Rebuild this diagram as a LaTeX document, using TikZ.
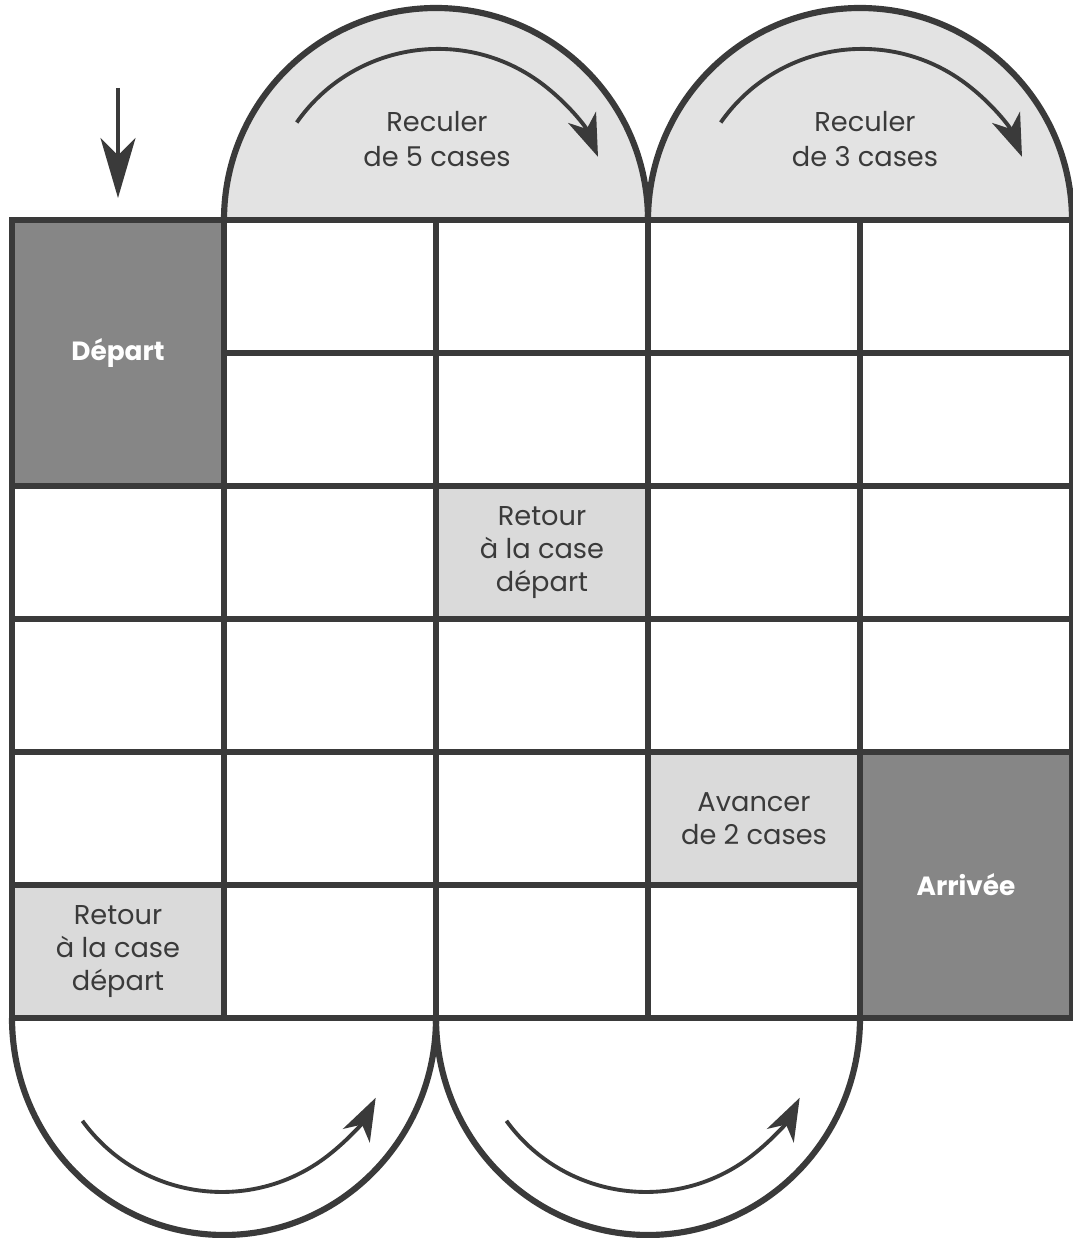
\documentclass[tikz,border=0pt]{standalone}
\usepackage{fontspec}
\setmainfont{Poppins}
\usepackage{xcolor}
\usetikzlibrary{arrows.meta}
\usetikzlibrary{positioning}

\definecolor{trait}{HTML}{3A3A3A}
\definecolor{fonce}{HTML}{868686}
\definecolor{clair}{HTML}{DADADA}
\definecolor{voile}{HTML}{E3E3E3}

\begin{document}
\begin{tikzpicture}[]
	%\draw[help lines] (0,0) grid (21,24);
	
	\tikzstyle{case} = [draw=trait,line width=3.5pt,minimum width=4.24cm,minimum height=2.66cm,inner sep=0pt,outer sep=0pt]
	\tikzstyle{grande} = [case,fill=fonce,minimum height=5.32cm,text=white,font=\bfseries\fontsize{15}{18}\selectfont]
	\tikzstyle{piege} = [case,fill=clair,align=center,text=trait,font=\fontsize{15.5}{19}\selectfont]
	\tikzstyle{texte} = [align=center,text=trait,font=\fontsize{15.5}{20}\selectfont]
	\tikzstyle{bord} = [draw=trait,line width=3.5pt]
	\tikzstyle{fleche} = [-{Stealth[length=8.5mm,width=6mm,inset=2.5mm]},draw=trait,line width=2.2pt]
	\tikzstyle{entree} = [-{Stealth[length=12mm,width=7mm,inset=3.5mm]},draw=trait,line width=1.8pt]
	
	\useasboundingbox (0,0) rectangle (21.46,24.76);

% demi-cercles du haut
\draw[bord,fill=voile] (4.48,20.36) arc (180:0:4.24);
\draw[bord,fill=voile] (12.96,20.36) arc (180:0:4.24);

% grille
\foreach \r in {1,...,6}
  \foreach \c in {1,...,5}
    \node[case] (c\r\c) at ({2.36+4.24*(\c-1)},{19.03-2.66*(\r-1)}) {};

% demi-cercles du bas
\draw[bord] (c61.south west) arc (180:360:4.24 and 4.34);
\draw[bord] (c62.south east) arc (180:360:4.24 and 4.34);

% cases speciales
\node[grande] (depart) at (c11.south) {Départ};
\node[grande] (arrivee) at (c55.south) {Arrivée};
\node[piege] (retour1) at (c33) {Retour\\à la case\\départ};
\node[piege] (avance) at (c54) {Avancer\\de 2 cases};
\node[piege] (retour2) at (c61) {Retour\\à la case\\départ};

% textes des demi-cercles
\node[texte] (recul5) at (8.74,21.98) {Reculer\\de 5 cases};
\node[texte] (recul3) at (17.30,21.98) {Reculer\\de 3 cases};

% fleches
\coordinate (debut) at (2.36,23.0);
\draw[entree,shorten >=0.44cm] (debut) -- (depart.north);
\draw[fleche] ([shift={(145:3.4)}]c12.north east) arc (145:22:3.45);
\draw[fleche] ([shift={(145:3.4)}]c14.north east) arc (145:22:3.45);
\draw[fleche] ([shift={(216:3.5)}]c61.south east) arc (216:333:3.45);
\draw[fleche] ([shift={(216:3.5)}]c63.south east) arc (216:333:3.45);
\end{tikzpicture}
\end{document}
